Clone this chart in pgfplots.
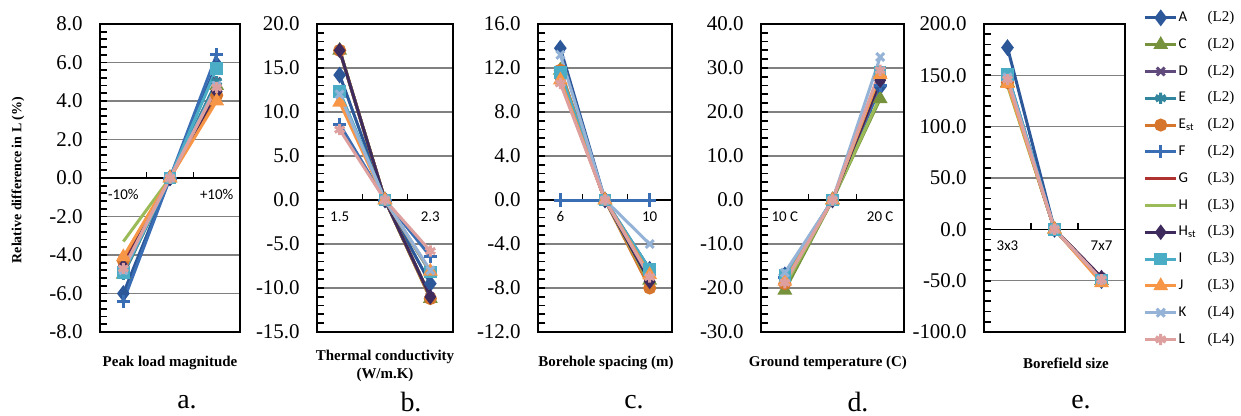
\documentclass[border=0pt]{standalone}
\usepackage{pgfplots}
\usepackage{pgfplotstable}
\pgfplotsset{compat=1.18}
\usepackage{fontspec}
\setmainfont{Liberation Serif}
\newfontfamily\calfont{Carlito}

\definecolor{cA}{RGB}{44,88,154}
\definecolor{cC}{RGB}{118,146,60}
\definecolor{cD}{RGB}{96,74,123}
\definecolor{cE}{RGB}{49,133,156}
\definecolor{cEst}{RGB}{214,118,44}
\definecolor{cF}{RGB}{58,110,180}
\definecolor{cG}{RGB}{175,50,48}
\definecolor{cH}{RGB}{155,187,89}
\definecolor{cHst}{RGB}{62,42,92}
\definecolor{cI}{RGB}{75,172,198}
\definecolor{cJ}{RGB}{247,150,70}
\definecolor{cK}{RGB}{149,179,215}
\definecolor{cL}{RGB}{222,160,158}

% x: 0 = low value, 1 = reference, 2 = high value
\pgfplotstableread{
x A C D E Est F G H Hst I J K L
0 -6.0 -5.0 -4.7 -5.0 -4.3 -6.4 -4.5 -3.3 -4.6 -4.9 -4.1 -4.8 -4.7
1 0 0 0 0 0 0 0 0 0 0 0 0 0
2 5.9 4.8 5.0 5.0 4.3 6.4 4.5 4.6 4.5 5.7 4.0 4.8 4.7
}\tabA
\pgfplotstableread{
x A C D E Est F G H Hst I J K L
0 14.2 17.0 17.0 12.2 17.0 8.6 17.0 17.0 17.0 12.3 11.1 12.0 8.0
1 0 0 0 0 0 0 0 0 0 0 0 0 0
2 -9.5 -11.2 -11.0 -8.2 -11.2 -6.4 -11.0 -11.0 -11.0 -8.2 -8.1 -8.0 -5.8
}\tabB
\pgfplotstableread{
x A C D E Est F G H Hst I J K L
0 13.8 11.8 11.2 11.5 11.8 0 11.0 11.0 11.1 11.6 10.9 13.2 10.6
1 0 0 0 0 0 0 0 0 0 0 0 0 0
2 -6.3 -7.3 -7.2 -6.6 -8.0 0 -7.3 -7.6 -7.4 -6.3 -6.8 -4.0 -7.0
}\tabC
\pgfplotstableread{
x A C D E Est F G H Hst I J K L
0 -17.0 -20.5 -18.0 -17.5 -19.0 -17.5 -18.0 -19.5 -18.0 -17.2 -18.5 -16.5 -18.8
1 0 0 0 0 0 0 0 0 0 0 0 0 0
2 25.7 23.0 27.3 28.5 28.0 26.0 27.0 23.5 27.2 29.0 28.5 32.5 29.5
}\tabD
\pgfplotstableread{
x A C D E Est F G H Hst I J K L
0 177 143 145 150 143 151 145 140 145 151 142 148 146
1 0 0 0 0 0 0 0 0 0 0 0 0 0
2 -50 -50 -47 -48 -50 -50 -47 -48 -47 -50 -52 -49 -49
}\tabE

\tikzset{
  ser/.style={line width=1.5bp, mark options={solid}},
  sA/.style={ser, cA, mark=diamond*, mark size=3bp},
  sC/.style={ser, cC, mark=triangle*, mark size=2.8bp},
  sD/.style={ser, cD, mark=x, mark size=2.8bp},
  sE/.style={ser, cE, mark=asterisk, mark size=2.8bp},
  sEst/.style={ser, cEst, mark=*, mark size=2.5bp},
  sF/.style={ser, cF, mark=+, mark size=3.3bp},
  sG/.style={ser, cG, mark=none},
  sH/.style={ser, cH, mark=none},
  sHst/.style={ser, cHst, mark=diamond*, mark size=2.7bp},
  sI/.style={ser, cI, mark=square*, mark size=2.4bp},
  sJ/.style={ser, cJ, mark=triangle*, mark size=2.8bp},
  sK/.style={ser, cK, mark=x, mark size=2.8bp},
  sL/.style={ser, cL, mark=asterisk, mark size=2.8bp},
}

\pgfplotsset{
  panel/.style={
    scale only axis, height=154bp, anchor=south west,
    xmin=-0.5, xmax=2.5, xtick=\empty,
    ytick pos=left, ytick align=inside,
    grid=major, grid style={gray, line width=0.6bp},
    axis line style={line width=0.8bp},
    yticklabel style={font=\fontsize{10.5}{12}\selectfont, anchor=east, inner sep=0pt, xshift=-8.5bp,
      /pgf/number format/fixed, /pgf/number format/fixed zerofill,
      /pgf/number format/precision=1, /pgf/number format/assume math mode=true},
    clip=false,
  },
}

% zero (category) axis, its boundary ticks and the two category names
\newcommand\catlab[2]{%
  \draw[black, line width=0.8bp] (axis cs:-0.5,0) -- (axis cs:2.5,0);
  \draw[black, line width=0.8bp] (axis cs:0.5,0) -- ([yshift=3.2bp]axis cs:0.5,0);
  \draw[black, line width=0.8bp] (axis cs:1.5,0) -- ([yshift=3.2bp]axis cs:1.5,0);
  \node[anchor=north, inner sep=0pt, yshift=-5.5bp, font=\calfont\fontsize{7.5}{9}\selectfont] at (axis cs:0,0) {#1};
  \node[anchor=north, inner sep=0pt, yshift=-5.5bp, font=\calfont\fontsize{7.5}{9}\selectfont] at (axis cs:2,0) {#2};
}
% inside ticks on the left edge of a named axis: #2 equal steps over its height
\newcommand\sideticks[2]{%
  \foreach \i in {1,...,#2}{%
    \draw[black, line width=0.9bp] ([yshift={154bp*\i/#2}]#1.south west) -- ++(3.5bp,0);
  }%
}
\newcommand\allseries[1]{%
  \addplot[sA] table[x=x,y=A]{#1};
  \addplot[sC] table[x=x,y=C]{#1};
  \addplot[sD] table[x=x,y=D]{#1};
  \addplot[sE] table[x=x,y=E]{#1};
  \addplot[sEst] table[x=x,y=Est]{#1};
  \addplot[sF] table[x=x,y=F]{#1};
  \addplot[sG] table[x=x,y=G]{#1};
  \addplot[sH] table[x=x,y=H]{#1};
  \addplot[sHst] table[x=x,y=Hst]{#1};
  \addplot[sI] table[x=x,y=I]{#1};
  \addplot[sJ] table[x=x,y=J]{#1};
  \addplot[sK] table[x=x,y=K]{#1};
  \addplot[sL] table[x=x,y=L]{#1};
}
\newcommand\legitem[2]{\makebox[14.5bp][l]{\calfont #1}{\rmfamily(#2)}}

\begin{document}
\begin{tikzpicture}
\path[use as bounding box] (0,0) rectangle (620.5bp,208bp);

% a. peak load
\begin{axis}[panel, name=pa, at={(50bp,42bp)}, width=70bp, ymin=-8, ymax=8, ytick={-8,-6,...,8}]
\catlab{-10\%}{+10\%}
\allseries{\tabA}
\end{axis}

% b. thermal conductivity
\begin{axis}[panel, name=pb, at={(158.5bp,42bp)}, width=68bp, ymin=-15, ymax=20, ytick={-15,-10,...,20}]
\catlab{1.5}{2.3}
\allseries{\tabB}
\end{axis}

% c. borehole spacing
\begin{axis}[panel, name=pc, at={(269bp,42bp)}, width=67bp, ymin=-12, ymax=16, ytick={-12,-8,...,16}]
\catlab{6}{10}
\allseries{\tabC}
\end{axis}

% d. ground temperature
\begin{axis}[panel, name=pd, at={(380.5bp,42bp)}, width=71.5bp, ymin=-30, ymax=40, ytick={-30,-20,...,40}]
\catlab{10 C}{20 C}
\allseries{\tabD}
\end{axis}

% e. borefield size, with the legend
\begin{axis}[panel, name=pe, at={(492bp,42bp)}, width=70.5bp, ymin=-100, ymax=200, ytick={-100,-50,...,200},
  legend style={at={(1.13,1.045)}, anchor=north west, draw=none, fill=none, inner sep=0pt,
    row sep=6.1bp, font=\fontsize{7.5}{9}\selectfont,
    nodes={inner sep=0.5bp, text height=5bp, text depth=1.3bp}},
  legend cell align=left,
  legend image code/.code={\draw[mark repeat=2, mark phase=2, #1] plot coordinates {(0bp,0bp) (7.75bp,0bp) (15.5bp,0bp)};}]
\catlab{3x3}{7x7}
\allseries{\tabE}
\legend{\legitem{A}{L2}, \legitem{C}{L2}, \legitem{D}{L2}, \legitem{E}{L2}, \legitem{E\textsubscript{st}}{L2}, \legitem{F}{L2},
  \legitem{G}{L3}, \legitem{H}{L3}, \legitem{H\textsubscript{st}}{L3}, \legitem{I}{L3}, \legitem{J}{L3}, \legitem{K}{L4}, \legitem{L}{L4}}
\end{axis}

% value-axis ticks (minor step: 0.4, 1, 0.8, 2, 10)
\sideticks{pa}{40}
\sideticks{pb}{35}
\sideticks{pc}{35}
\sideticks{pd}{35}
\sideticks{pe}{30}

% texts placed in image pixels (1 px = 0.5 bp)
\begin{scope}[x=0.5bp, y=0.5bp]
\node[rotate=90, font=\bfseries\fontsize{7}{8.4}\selectfont] at (18,416-180) {Relative difference in L (\%)};
\begin{scope}[every node/.style={font=\bfseries\fontsize{7.5}{9}\selectfont, align=center}]
\node at (170,416-363) {Peak load magnitude};
\node at (385,416-366) {Thermal conductivity\\(W/m.K)};
\node at (606,416-363) {Borehole spacing (m)};
\node at (828,416-363) {Ground temperature (C)};
\node at (1066,416-363) {Borefield size};
\end{scope}
\begin{scope}[every node/.style={font=\fontsize{14}{16}\selectfont, inner sep=0pt}]
\node at (187,416-402) {a.};
\node at (411,416-402) {b.};
\node at (634,416-402) {c.};
\node at (858,416-402) {d.};
\node at (1081,416-402) {e.};
\end{scope}
\end{scope}
\end{tikzpicture}
\end{document}
